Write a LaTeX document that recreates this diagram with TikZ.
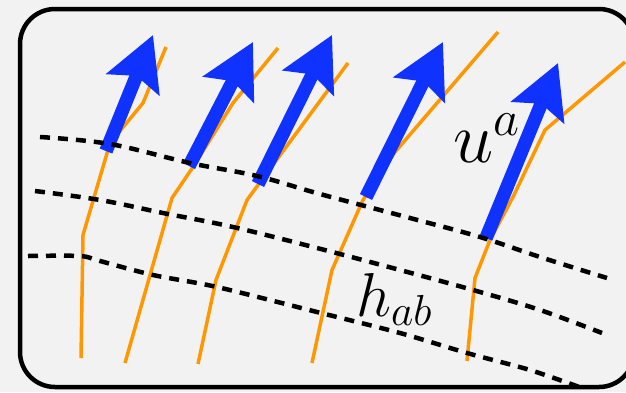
\documentclass[tikz,border=0pt]{standalone}
\usepackage{fix-cm}
\usepackage{tikz}
\usetikzlibrary{arrows.meta}
\definecolor{wlorange}{RGB}{255,152,0}
\definecolor{velblue}{RGB}{16,50,255}
\definecolor{paper}{RGB}{242,242,242}

\begin{document}
\begin{tikzpicture}[x=1pt,y=-1pt,
  frame/.style={draw=black,line width=4.5pt,rounded corners=35pt},
  worldline/.style={draw=wlorange,line width=3.5pt,line join=round},
  slice/.style={draw=black,line width=4.5pt,dash pattern=on 10pt off 8pt},
  fourvel/.style={draw=velblue,line width=13.5pt,
    -{Stealth[length=53pt,width=56pt,inset=9pt]}},
  lbl/.style={inner sep=0pt,anchor=base west}
]
  \fill[paper] (0,0) rectangle (626,392);
  \useasboundingbox (0,0) rectangle (626,392);
  \begin{scope}
    \clip (0,0) rectangle (626,392);
    \draw[frame] (20,9) rectangle (634,387);
  \end{scope}

  % worldlines
  \draw[worldline] (81,358) -- (83,235) -- (110,143) -- (143,103) -- (166,47);
  \draw[worldline] (125,363) -- (172,198) -- (193,167) -- (233,103) -- (278,48);
  \draw[worldline] (198,364) -- (216,280) -- (247,200) -- (348,63);
  \draw[worldline] (312,363) -- (332,270) -- (363,200) -- (395,152) -- (498,32);
  \draw[worldline] (467,361) -- (475,278) -- (490,240) -- (513,197) -- (545,130) -- (625,62);

  % four-velocities
  \coordinate (tail1) at (106,151);  \coordinate (tip1) at (153,35);
  \coordinate (tail2) at (189,166);  \coordinate (tip2) at (253,42);
  \coordinate (tail3) at (258,184);  \coordinate (tip3) at (332,35);
  \coordinate (tail4) at (366,197);  \coordinate (tip4) at (443,42);
  \coordinate (tail5) at (486,238);  \coordinate (tip5) at (558,63);
  \draw[fourvel] (tail1) -- (tip1);
  \draw[fourvel] (tail2) -- (tip2);
  \draw[fourvel] (tail3) -- (tip3);
  \draw[fourvel] (tail4) -- (tip4);
  \draw[fourvel] (tail5) -- (tip5);

  % hypersurfaces
  \draw[slice] plot[smooth,tension=0.6] coordinates {(40,137) (110,144) (190,163)
    (257,176) (320,194) (410,218) (480,237) (540,257) (607,278)};
  \draw[slice] plot[smooth,tension=0.6] coordinates {(35,191) (100,200) (163,213)
    (233,227) (317,248) (400,270) (473,290) (540,310) (602,333)};
  \draw[slice] plot[smooth,tension=0.5] coordinates {(28,256) (80,256) (100,261)
    (153,275) (217,287) (317,312) (400,333) (467,353) (530,370) (582,388)};

  \node[lbl,font=\fontsize{72}{72}\selectfont] (uvel) at (453,162) {$u^a$};
  \node[lbl,font=\fontsize{62}{62}\selectfont] (hproj) at (356,316) {$h_{ab}$};
\end{tikzpicture}
\end{document}
